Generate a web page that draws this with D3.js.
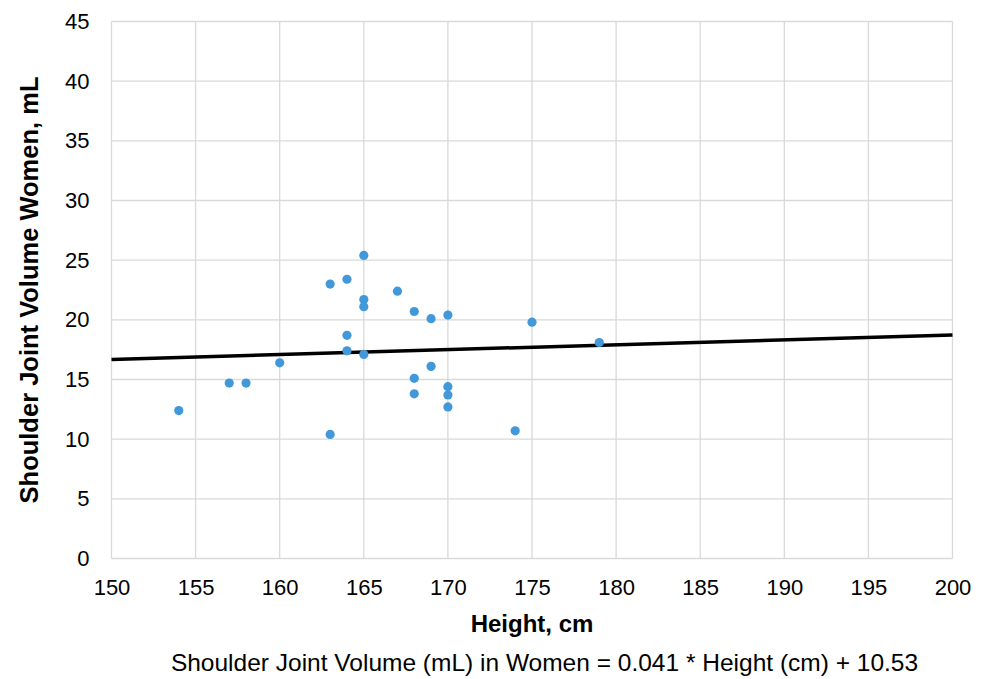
<!DOCTYPE html>
<html>
<head>
<meta charset="utf-8">
<script src="https://cdn.jsdelivr.net/npm/d3@7"></script>
<style>
  body { margin: 0; background: #fff; }
  text { font-family: "Liberation Sans", Arial, sans-serif; fill: #000; }
</style>
</head>
<body>
<div id="chart"></div>
<script>
// height (cm) and shoulder joint volume (mL) for each woman
var heights = [154, 157, 158, 160, 163, 163, 164, 164, 164, 165, 165, 165, 165,
  167, 168, 168, 168, 169, 169, 170, 170, 170, 170, 174, 175, 179];
var volumes = [12.4, 14.7, 14.7, 16.4, 23.0, 10.4, 23.4, 18.7, 17.4, 25.4, 21.7, 21.1, 17.1,
  22.4, 20.7, 15.1, 13.8, 20.1, 16.1, 20.4, 14.4, 13.7, 12.7, 10.7, 19.8, 18.1];

// trend line: volume = slope * height + intercept
var slope = 0.041;
var intercept = 10.53;

var xTicks = [150, 155, 160, 165, 170, 175, 180, 185, 190, 195, 200];
var yTicks = [0, 5, 10, 15, 20, 25, 30, 35, 40, 45];

var svgWidth = 988;
var svgHeight = 679;

var margin = {top: 21.5, right: 35.5, bottom: 120.5, left: 111.5};
var width = svgWidth - margin.left - margin.right;
var height = svgHeight - margin.top - margin.bottom;

var svg = d3.select("#chart")
  .append("svg")
  .attr("width", svgWidth)
  .attr("height", svgHeight);

var chartGroup = svg.append("g")
  .attr("transform", `translate(${margin.left}, ${margin.top})`);

var xLinearScale = d3.scaleLinear().domain([150, 200]).range([0, width]);
var yLinearScale = d3.scaleLinear().domain([0, 45]).range([height, 0]);

// gridlines
chartGroup.append("g")
  .selectAll("line")
  .data(xTicks)
  .enter()
  .append("line")
  .attr("x1", d => xLinearScale(d))
  .attr("x2", d => xLinearScale(d))
  .attr("y1", 0)
  .attr("y2", height)
  .attr("stroke", "#d9d9d9")
  .attr("stroke-width", 1.3);

chartGroup.append("g")
  .selectAll("line")
  .data(yTicks)
  .enter()
  .append("line")
  .attr("x1", 0)
  .attr("x2", width)
  .attr("y1", d => yLinearScale(d))
  .attr("y2", d => yLinearScale(d))
  .attr("stroke", "#d9d9d9")
  .attr("stroke-width", 1.3);

// axes (labels only, lines come from the grid)
var bottomAxis = d3.axisBottom(xLinearScale).tickValues(xTicks).tickSize(0).tickPadding(21);
var xAxis = chartGroup.append("g")
  .attr("transform", `translate(0, ${height})`)
  .call(bottomAxis);
xAxis.select(".domain").remove();
xAxis.selectAll("text")
  .style("font-size", "22px")
  .style("font-family", "Liberation Sans, Arial, sans-serif");

var leftAxis = d3.axisLeft(yLinearScale).tickValues(yTicks).tickSize(0).tickPadding(22);
var yAxis = chartGroup.append("g").call(leftAxis);
yAxis.select(".domain").remove();
yAxis.selectAll("text")
  .style("font-size", "22px")
  .style("font-family", "Liberation Sans, Arial, sans-serif");

// trend line across the whole x range
var lineData = xLinearScale.domain().map(h => ({h: h, v: slope * h + intercept}));
chartGroup.append("path")
  .datum(lineData)
  .attr("fill", "none")
  .attr("stroke", "#000")
  .attr("stroke-width", 3.5)
  .attr("d", d3.line().x(d => xLinearScale(d.h)).y(d => yLinearScale(d.v)));

// points
chartGroup.append("g")
  .selectAll("circle")
  .data(heights.map((h, i) => ({h: h, v: volumes[i]})))
  .enter()
  .append("circle")
  .attr("cx", d => xLinearScale(d.h))
  .attr("cy", d => yLinearScale(d.v))
  .attr("r", 4.6)
  .attr("fill", "#4299d9");

// titles
chartGroup.append("text")
  .attr("transform", "rotate(-90)")
  .attr("x", -height / 2)
  .attr("y", -margin.left + 38)
  .attr("text-anchor", "middle")
  .style("font-size", "25.5px")
  .style("font-weight", "bold")
  .text("Shoulder Joint Volume Women, mL");

chartGroup.append("text")
  .attr("x", width / 2)
  .attr("y", height + 73.5)
  .attr("text-anchor", "middle")
  .style("font-size", "24px")
  .style("font-weight", "bold")
  .text("Height, cm");

svg.append("text")
  .attr("x", 544.5)
  .attr("y", 671)
  .attr("text-anchor", "middle")
  .style("font-size", "24.5px")
  .text("Shoulder Joint Volume (mL) in Women = 0.041 * Height (cm) + 10.53");
</script>
</body>
</html>
